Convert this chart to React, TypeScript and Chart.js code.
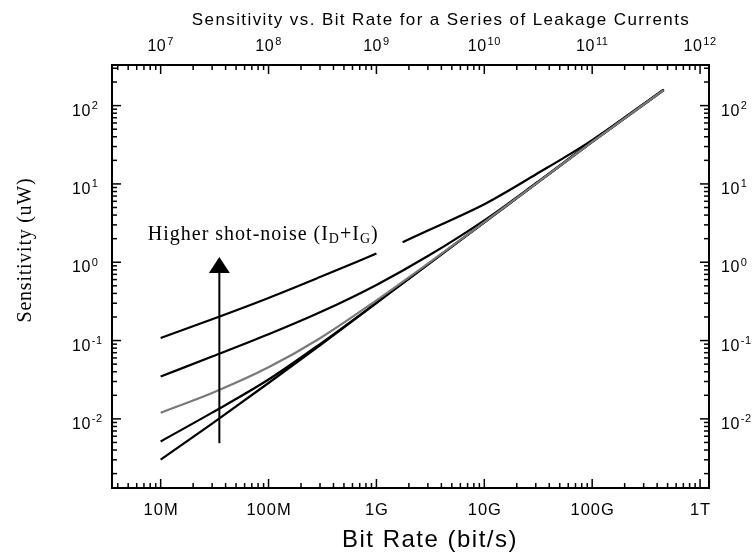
import React, { useEffect, useRef } from "react";
import { Chart, registerables } from "chart.js";

Chart.register(...registerables);

// Bit rates (bit/s) at which the sensitivity curves are sampled
const bitRates = [1e7, 3e7, 1e8, 3e8, 1e9, 3e9, 1e10, 3e10, 1e11, 4.6e11];

// Sensitivity (uW), from the lowest to the highest shot-noise current
const sensLevel1 = [0.00302, 0.00871, 0.0287, 0.0871, 0.301, 0.933, 3.22, 9.98, 34.4, 158];
const sensLevel2 = [0.00515, 0.012, 0.0318, 0.0902, 0.304, 0.94, 3.23, 9.99, 34.4, 158];
const sensLevel3 = [0.012, 0.0214, 0.0455, 0.107, 0.326, 0.96, 3.25, 10.0, 34.5, 158];
const sensLevel4 = [0.0348, 0.0624, 0.12, 0.229, 0.513, 1.2, 3.43, 10.2, 35.1, 160];

// The highest curve is broken where the annotation text sits
const level5Rates = [1e7, 3e7, 1e8, 3e8, 1e9, 1.3e9, 1.75e9, 3e9, 1e10, 3e10, 1e11, 4.6e11];
const sensLevel5 = [0.108, 0.187, 0.35, 0.646, 1.29, null, 1.8, 2.54, 5.5, 13.2, 36.3, 160];

// Axis decades and their labels
const xDecades = [1e7, 1e8, 1e9, 1e10, 1e11, 1e12];
const bottomTickLabels = ["10M", "100M", "1G", "10G", "100G", "1T"];
const topTickExponents = ["7", "8", "9", "10", "11", "12"];
const yDecades = [1e2, 1e1, 1e0, 1e-1, 1e-2];
const yTickExponents = ["2", "1", "0", "-1", "-2"];

const xRange = [3.54e6, 1.21e12];
const yRange = [1.31e-3, 330];

// Annotation arrow and note
const arrowRate = 3.5e7;
const arrowFrom = 0.0049;
const arrowTo = 1.17;
const noteRate = 7.6e6;
const noteLevel = 1.94;

const chartTitle = "Sensitivity vs. Bit Rate for a Series of Leakage Currents";
const xTitle = "Bit Rate (bit/s)";
const yTitle = "Sensitivity (uW)";

const SANS = '"Liberation Sans", Arial, Helvetica, sans-serif';
const SERIF = '"Liberation Serif", "Times New Roman", serif';

function toPoints(xs: number[], ys: (number | null)[]) {
  return xs.map((x, i) => ({ x, y: ys[i] }));
}

function drawPower(
  ctx: CanvasRenderingContext2D,
  exp: string,
  x: number,
  baseY: number,
  align: "left" | "center"
) {
  ctx.letterSpacing = "0.5px";
  ctx.font = `16px ${SANS}`;
  const w1 = ctx.measureText("10").width;
  ctx.font = `11px ${SANS}`;
  const w2 = ctx.measureText(exp).width;
  const total = w1 + 1 + w2;
  const x0 = align === "center" ? x - total / 2 : x;
  ctx.textAlign = "left";
  ctx.textBaseline = "alphabetic";
  ctx.font = `16px ${SANS}`;
  ctx.fillText("10", x0, baseY);
  ctx.font = `11px ${SANS}`;
  ctx.fillText(exp, x0 + w1 + 1, baseY - 6.5);
}

const axesPlugin = {
  id: "boxedLogAxes",
  afterDraw(chart: any) {
    const { ctx, chartArea: a, scales } = chart;
    const xs = scales.x;
    const ys = scales.y;
    ctx.save();
    ctx.strokeStyle = "#000";
    ctx.fillStyle = "#000";

    // tick marks pointing into the plot on all four sides
    ctx.lineWidth = 1.5;
    const seg = (x1: number, y1: number, x2: number, y2: number) => {
      ctx.beginPath();
      ctx.moveTo(x1, y1);
      ctx.lineTo(x2, y2);
      ctx.stroke();
    };
    for (let d = 6; d <= 12; d++) {
      for (let m = 1; m <= 9; m++) {
        const v = m * Math.pow(10, d);
        if (v < xs.min || v > xs.max) continue;
        const px = xs.getPixelForValue(v);
        const len = m === 1 ? 9 : 5;
        seg(px, a.bottom, px, a.bottom - len);
        seg(px, a.top, px, a.top + len);
      }
    }
    for (let d = -3; d <= 2; d++) {
      for (let m = 1; m <= 9; m++) {
        const v = m * Math.pow(10, d);
        if (v < ys.min || v > ys.max) continue;
        const py = ys.getPixelForValue(v);
        const len = m === 1 ? 9 : 5;
        seg(a.left, py, a.left + len, py);
        seg(a.right, py, a.right - len, py);
      }
    }

    // plot frame
    ctx.lineWidth = 2;
    ctx.strokeRect(a.left, a.top, a.right - a.left, a.bottom - a.top);

    // bottom tick labels
    ctx.font = `16.5px ${SANS}`;
    ctx.letterSpacing = "1px";
    ctx.textAlign = "center";
    ctx.textBaseline = "alphabetic";
    xDecades.forEach((v, i) => {
      ctx.fillText(bottomTickLabels[i], xs.getPixelForValue(v) + 0.5, a.bottom + 27);
    });

    // top tick labels
    xDecades.forEach((v, i) => {
      drawPower(ctx, topTickExponents[i], xs.getPixelForValue(v), a.top - 14, "center");
    });

    // left and right tick labels
    yDecades.forEach((v, i) => {
      const py = ys.getPixelForValue(v);
      drawPower(ctx, yTickExponents[i], 72, py + 10, "left");
      drawPower(ctx, yTickExponents[i], 721, py + 10, "left");
    });

    // chart title
    ctx.font = `17px ${SANS}`;
    ctx.letterSpacing = "1.4px";
    ctx.textAlign = "center";
    ctx.fillText(chartTitle, 441, 25);

    // x axis title
    ctx.font = `24px ${SANS}`;
    ctx.letterSpacing = "1.5px";
    ctx.fillText(xTitle, 430, 547);

    // y axis title
    ctx.save();
    ctx.translate(31, 250);
    ctx.rotate(-Math.PI / 2);
    ctx.font = `20px ${SERIF}`;
    ctx.letterSpacing = "0.75px";
    ctx.textAlign = "center";
    ctx.fillText(yTitle, 0, 0);
    ctx.restore();

    // arrow showing the direction of higher shot noise
    const ax = xs.getPixelForValue(arrowRate);
    const ay0 = ys.getPixelForValue(arrowFrom);
    const ay1 = ys.getPixelForValue(arrowTo);
    ctx.lineWidth = 2;
    seg(ax, ay0, ax, ay1 + 14);
    ctx.beginPath();
    ctx.moveTo(ax, ay1);
    ctx.lineTo(ax - 10.5, ay1 + 16);
    ctx.lineTo(ax + 10.5, ay1 + 16);
    ctx.closePath();
    ctx.fill();

    // note with subscripted currents
    const parts: [string, boolean][] = [
      ["Higher shot-noise (I", false],
      ["D", true],
      ["+I", false],
      ["G", true],
      [")", false],
    ];
    let nx = xs.getPixelForValue(noteRate);
    const ny = ys.getPixelForValue(noteLevel);
    ctx.textAlign = "left";
    ctx.letterSpacing = "1px";
    for (const [t, sub] of parts) {
      ctx.font = sub ? `14px ${SERIF}` : `20px ${SERIF}`;
      ctx.fillText(t, nx, sub ? ny + 3 : ny);
      nx += ctx.measureText(t).width;
    }

    ctx.restore();
  },
};

export default function App() {
  const canvasRef = useRef<HTMLCanvasElement | null>(null);

  useEffect(() => {
    document.body.style.margin = "0";
    const canvas = canvasRef.current;
    if (!canvas) return;

    const lineStyle = {
      borderWidth: 2.2,
      pointRadius: 0,
      cubicInterpolationMode: "monotone" as const,
      spanGaps: false,
      fill: false,
    };

    const chart = new Chart(canvas, {
      type: "line",
      data: {
        datasets: [
          { ...lineStyle, label: "level 3", data: toPoints(bitRates, sensLevel3), borderColor: "#7a7a7a" },
          { ...lineStyle, label: "level 1", data: toPoints(bitRates, sensLevel1), borderColor: "#000" },
          { ...lineStyle, label: "level 2", data: toPoints(bitRates, sensLevel2), borderColor: "#000" },
          { ...lineStyle, label: "level 4", data: toPoints(bitRates, sensLevel4), borderColor: "#000" },
          { ...lineStyle, label: "level 5", data: toPoints(level5Rates, sensLevel5), borderColor: "#000" },
        ],
      },
      options: {
        animation: false,
        responsive: false,
        devicePixelRatio: 1,
        layout: { padding: { left: 112, right: 47, top: 65, bottom: 66 } },
        plugins: { legend: { display: false }, tooltip: { enabled: false }, title: { display: false } },
        scales: {
          x: { type: "logarithmic", display: false, min: xRange[0], max: xRange[1] },
          y: { type: "logarithmic", display: false, min: yRange[0], max: yRange[1] },
        },
      },
      plugins: [axesPlugin],
    });

    return () => chart.destroy();
  }, []);

  return (
    <div style={{ width: 756, height: 554, background: "#fff" }}>
      <canvas ref={canvasRef} width={756} height={554} />
    </div>
  );
}
